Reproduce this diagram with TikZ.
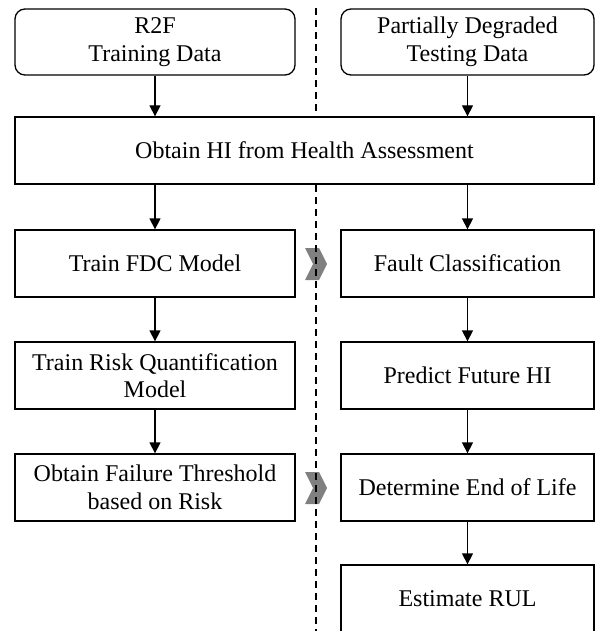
\documentclass[tikz,border=0pt]{standalone}
\usepackage{fontspec}
\setmainfont{Liberation Serif}
\usetikzlibrary{arrows.meta}
\definecolor{chevgray}{HTML}{808080}
\tikzset{
  box/.style={draw, line width=1.3pt, minimum height=67pt, align=center,
    font=\fontsize{24}{27.6}\selectfont, inner sep=1pt},
  lbox/.style={box, minimum width=280pt},
  rbox/.style={box, minimum width=253pt},
  topbox/.style={rounded corners=10pt},
  conn/.style={-{Triangle[width=11pt,length=11pt]}, line width=1.3pt},
  divider/.style={line width=1.3pt, dash pattern=on 7pt off 5pt},
  chevron/.style={fill=chevgray, draw=none}
}
\begin{document}
\begin{tikzpicture}[x=1pt,y=-1pt]
\useasboundingbox (0,0) rectangle (595,631);
% nodes
\node[lbox,topbox,minimum height=66pt] (l0) at (155,42) {R2F\\Training Data};
\node[rbox,topbox,minimum height=66pt] (r0) at (467.5,42) {Partially Degraded\\Testing Data};
\node[box,minimum width=579pt] (w) at (304.5,150.5) {Obtain HI from Health Assessment};
\node[lbox] (l1) at (155,263.5) {Train FDC Model};
\node[rbox] (r1) at (467.5,263.5) {Fault Classification};
\node[lbox] (l2) at (155,375.5) {Train Risk Quantification\\Model};
\node[rbox] (r2) at (467.5,375.5) {Predict Future HI};
\node[lbox] (l3) at (155,487.5) {Obtain Failure Threshold\\based on Risk};
\node[rbox] (r3) at (467.5,487.5) {Determine End of Life};
\node[rbox] (r4) at (467.5,598.5) {Estimate RUL};
% connectors
\draw[conn] (l0) -- (l0 |- w.north);
\draw[conn] (r0) -- (r0 |- w.north);
\draw[conn] (w.south -| l1) -- (l1);
\draw[conn] (w.south -| r1) -- (r1);
\draw[conn] (l1) -- (l2);
\draw[conn] (l2) -- (l3);
\draw[conn] (r1) -- (r2);
\draw[conn] (r2) -- (r3);
\draw[conn] (r3) -- (r4);
% chevrons
\fill[chevron] (305,248) -- (319,248) -- (327,264) -- (319,280) -- (305,280) -- (313,264) -- cycle;
\fill[chevron] (305,472) -- (319,472) -- (327,488) -- (319,504) -- (305,504) -- (313,488) -- cycle;
% divider
\coordinate (dtop) at (316,8);
\coordinate (dbot) at (316,631);
\draw[divider] (dtop) -- (dtop |- w.north);
\draw[divider] (dtop |- w.south) -- (dbot);
\end{tikzpicture}
\end{document}
